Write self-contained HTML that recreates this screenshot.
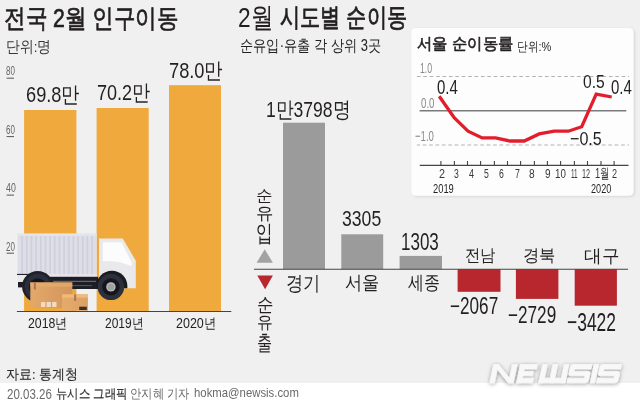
<!DOCTYPE html>
<html><head><meta charset="utf-8"><style>
html,body{margin:0;padding:0}
body{width:640px;height:402px;overflow:hidden;background:#f0f0f0;position:relative;font-family:"Liberation Sans",sans-serif}
svg{position:absolute;left:0;top:0}
.t div{position:absolute;white-space:pre;line-height:1;transform-origin:0 0}
</style></head><body>
<svg width="640" height="402" viewBox="0 0 640 402">
<rect x="0" y="383" width="640" height="19" fill="#ffffff" />
<rect x="24.1" y="110" width="52.3" height="201.5" fill="#f0a93c" />
<rect x="96.6" y="108" width="52.1" height="203.5" fill="#f0a93c" />
<rect x="169" y="85.2" width="52" height="226.3" fill="#f0a93c" />
<line x1="6.6" y1="78.2" x2="14" y2="78.2" stroke="#555" stroke-width="1"/>
<line x1="6.6" y1="136.6" x2="14" y2="136.6" stroke="#555" stroke-width="1"/>
<line x1="6.6" y1="195.1" x2="14" y2="195.1" stroke="#555" stroke-width="1"/>
<line x1="6.6" y1="253.2" x2="14" y2="253.2" stroke="#555" stroke-width="1"/>
<g id="truck">
<defs>
<linearGradient id="bx1" x1="0" x2="1" y1="0" y2="0"><stop offset="0" stop-color="#e4a86b"/><stop offset="1" stop-color="#d3955a"/></linearGradient>
<linearGradient id="bx2" x1="0" x2="1" y1="0" y2="0"><stop offset="0" stop-color="#e6ab6c"/><stop offset="1" stop-color="#dba063"/></linearGradient>
<clipPath id="cabclip"><rect x="90" y="230" width="50" height="58.2"/></clipPath>
<clipPath id="rearclip"><rect x="15" y="230" width="50" height="44.6"/></clipPath>
</defs>
<rect x="17.5" y="233.6" width="79" height="40.6" fill="#dddee7"/>
<rect x="17.5" y="233.6" width="79" height="2.2" fill="#e4e5eb"/>
<rect x="21.3" y="236" width="1.7" height="37.8" fill="#cfd0dc"/><rect x="25.96" y="236" width="1.7" height="37.8" fill="#cfd0dc"/><rect x="30.62" y="236" width="1.7" height="37.8" fill="#cfd0dc"/><rect x="35.28" y="236" width="1.7" height="37.8" fill="#cfd0dc"/><rect x="39.94" y="236" width="1.7" height="37.8" fill="#cfd0dc"/><rect x="44.6" y="236" width="1.7" height="37.8" fill="#cfd0dc"/><rect x="49.26" y="236" width="1.7" height="37.8" fill="#cfd0dc"/><rect x="53.92" y="236" width="1.7" height="37.8" fill="#cfd0dc"/><rect x="58.58" y="236" width="1.7" height="37.8" fill="#cfd0dc"/><rect x="63.24" y="236" width="1.7" height="37.8" fill="#cfd0dc"/><rect x="67.9" y="236" width="1.7" height="37.8" fill="#cfd0dc"/><rect x="72.56" y="236" width="1.7" height="37.8" fill="#cfd0dc"/><rect x="77.22" y="236" width="1.7" height="37.8" fill="#cfd0dc"/><rect x="81.88" y="236" width="1.7" height="37.8" fill="#cfd0dc"/><rect x="86.54" y="236" width="1.7" height="37.8" fill="#cfd0dc"/><rect x="91.2" y="236" width="1.7" height="37.8" fill="#cfd0dc"/>
<rect x="17.5" y="274" width="79.2" height="3" fill="#e3e3e8"/><rect x="17" y="273.9" width="11" height="1.1" fill="#1f2029"/>
<rect x="40" y="276.8" width="58" height="12.2" fill="#1c1d25"/>
<rect x="53" y="280.8" width="43" height="1" fill="#767983"/>
<rect x="70" y="285.2" width="22" height="0.9" fill="#5d5f68"/>
<rect x="18" y="281.4" width="7" height="6" fill="#1c1d25"/>
<rect x="17.5" y="275" width="14" height="7" fill="#e9e9ed"/>
<circle cx="37.7" cy="286.6" r="15.6" fill="#202128"/>
<circle cx="37.7" cy="286.8" r="13" fill="#2b2e3d"/>
<circle cx="37.7" cy="286.8" r="8.6" fill="#15161c"/>
<path d="M99,238.5 L122.8,238.5 L135.8,260.8 L135.8,288.2 L99,288.2 Z" fill="#e9e9ec"/>
<path d="M102.7,242.2 L121.6,242.2 L131.6,262.6 L131.6,266.2 Q124,263.5 119,262 Q112,260.8 102.7,260.9 Z" fill="#fcfcfc"/>
<circle cx="111.9" cy="286.3" r="15.5" fill="#1a1b21" clip-path="url(#cabclip)"/>
<circle cx="110.9" cy="286.9" r="13.2" fill="#2c2f3c"/>
<circle cx="110.9" cy="286.9" r="8.7" fill="#15161c"/>
<circle cx="110.9" cy="286.9" r="4.7" fill="#b9b9b9"/>
<circle cx="110.9" cy="286.9" r="3.2" fill="#a0a0a0"/>
<rect x="30.3" y="282.4" width="42" height="25.7" fill="url(#bx1)"/>
<rect x="30.3" y="282.4" width="42" height="4.4" fill="#e6ac6e" opacity="0.7"/>
<rect x="33.8" y="282.4" width="2.1" height="7.1" fill="#a87856"/>
<rect x="41" y="302" width="4.3" height="5" fill="#f1dcc4"/>
<rect x="46.6" y="302" width="4.3" height="5" fill="#f1dcc4"/>
<rect x="52.2" y="302" width="4.3" height="5" fill="#f1dcc4"/>
<rect x="62.2" y="294.4" width="25.7" height="16.4" fill="url(#bx2)"/>
<rect x="62.2" y="294.4" width="25.7" height="3.3" fill="#f0ba7b"/>
<rect x="74" y="294.4" width="2.2" height="6.6" fill="#ad7b57"/>
<rect x="79.2" y="306.7" width="7.6" height="3.3" fill="#3c3029"/>
</g>
<line x1="16.9" y1="311.5" x2="231.3" y2="311.5" stroke="#4a4344" stroke-width="1.2"/>
<rect x="283" y="122.7" width="42" height="146.5" fill="#9b9b9b" />
<rect x="341.3" y="234.3" width="41.9" height="34.9" fill="#9b9b9b" />
<rect x="399.6" y="255.9" width="42.4" height="13.3" fill="#9b9b9b" />
<rect x="457.6" y="269.2" width="42.9" height="22.6" fill="#b8272e" />
<rect x="515.9" y="269.2" width="42.5" height="29.7" fill="#b8272e" />
<rect x="574.7" y="269.2" width="42.2" height="36.5" fill="#b8272e" />
<line x1="254" y1="269.2" x2="628.1" y2="269.2" stroke="#4a4344" stroke-width="1.15"/>
<polygon points="256.6,262.7 272.9,262.7 264.75,249.3" fill="#a3a3a3"/>
<polygon points="257.3,275.6 272.9,275.6 265.1,289.3" fill="#b8272e"/>
<defs><filter id="sh" x="-5%" y="-5%" width="110%" height="110%"><feDropShadow dx="1.2" dy="0.8" stdDeviation="1" flood-color="#000" flood-opacity="0.13"/></filter></defs><rect x="411.3" y="28" width="222.2" height="167.7" rx="4.5" fill="#fdfdfd" filter="url(#sh)"/>
<line x1="416.9" y1="76.5" x2="629" y2="76.5" stroke="#b3b3b3" stroke-width="1" stroke-dasharray="3.7 2.7" stroke-dashoffset="0"/>
<line x1="416.9" y1="145" x2="629" y2="145" stroke="#b3b3b3" stroke-width="1" stroke-dasharray="3.7 2.7" stroke-dashoffset="0.6"/>
<line x1="419.6" y1="110.8" x2="626.3" y2="110.8" stroke="#7a7a7a" stroke-width="1.4"/>
<line x1="419.75" y1="165.4" x2="628.5" y2="165.4" stroke="#4a4344" stroke-width="1.3"/>
<line x1="440.9" y1="161" x2="440.9" y2="165.4" stroke="#4a4344" stroke-width="1.1"/>
<line x1="454.4" y1="161" x2="454.4" y2="165.4" stroke="#4a4344" stroke-width="1.1"/>
<line x1="467.5" y1="161" x2="467.5" y2="165.4" stroke="#4a4344" stroke-width="1.1"/>
<line x1="480.6" y1="161" x2="480.6" y2="165.4" stroke="#4a4344" stroke-width="1.1"/>
<line x1="494.4" y1="161" x2="494.4" y2="165.4" stroke="#4a4344" stroke-width="1.1"/>
<line x1="507.5" y1="161" x2="507.5" y2="165.4" stroke="#4a4344" stroke-width="1.1"/>
<line x1="520.6" y1="161" x2="520.6" y2="165.4" stroke="#4a4344" stroke-width="1.1"/>
<line x1="534.4" y1="161" x2="534.4" y2="165.4" stroke="#4a4344" stroke-width="1.1"/>
<line x1="547.4" y1="161" x2="547.4" y2="165.4" stroke="#4a4344" stroke-width="1.1"/>
<line x1="560.6" y1="161" x2="560.6" y2="165.4" stroke="#4a4344" stroke-width="1.1"/>
<line x1="574.4" y1="161" x2="574.4" y2="165.4" stroke="#4a4344" stroke-width="1.1"/>
<line x1="587.5" y1="161" x2="587.5" y2="165.4" stroke="#4a4344" stroke-width="1.1"/>
<line x1="601" y1="161" x2="601" y2="165.4" stroke="#4a4344" stroke-width="1.1"/>
<line x1="614.1" y1="161" x2="614.1" y2="165.4" stroke="#4a4344" stroke-width="1.1"/>
<polyline points="439.2,96.3 454.2,117.8 468,131.2 482.2,137.9 495.6,137.9 510,141 524.2,141 539.2,133.9 554.2,131.2 568.3,131.2 581.7,126.7 596.2,94.2 611.7,97" fill="none" stroke="#e21d2c" stroke-width="3.3" stroke-linejoin="miter"/>
<defs><filter id="lg" x="-10%" y="-40%" width="120%" height="180%"><feGaussianBlur in="SourceAlpha" stdDeviation="2"/><feOffset dx="0" dy="0.8"/><feComponentTransfer><feFuncA type="linear" slope="0.42"/></feComponentTransfer><feMerge><feMergeNode/><feMergeNode in="SourceGraphic"/></feMerge></filter></defs>
<g filter="url(#lg)"><path transform="translate(0,382.7) skewX(-12) translate(0,-382.7)" d="M489.8,364.5H494.4V382.7H489.8ZM508.6,364.5H513.2V382.7H508.6ZM489.8,364.5L494.8,364.5L513.2,382.7L508.2,382.7ZM516.8,364.5H521.4V382.7H516.8ZM516.8,364.5H533.5V369.0H516.8ZM516.8,371.4H531V375.8H516.8ZM516.8,378.2H532.5V382.7H516.8ZM538.9,364.5H543.5V382.7H538.9ZM549.2,364.5H553.8000000000001V382.7H549.2ZM560.5,364.5H565.1V382.7H560.5ZM538.9,378.2H565.1V382.7H538.9ZM569.5,364.5H588V369.0H571.6V371.4H585.5Q588,371.4 588,373.9V380.2Q588,382.7 585.5,382.7H567V378.2H583.4V375.8H569.5Q567,375.8 567,373.3V367.0Q567,364.5 569.5,364.5ZM590.3,364.5H594.9V382.7H590.3ZM599.0,364.5H617.5V369.0H601.1V371.4H615.0Q617.5,371.4 617.5,373.9V380.2Q617.5,382.7 615.0,382.7H596.5V378.2H612.9V375.8H599.0Q596.5,375.8 596.5,373.3V367.0Q596.5,364.5 599.0,364.5Z" fill="#f8f8f8" stroke="#f8f8f8" stroke-width="0.7" stroke-linejoin="round"/></g>
</svg>
<div class="t">
<div style="left:3.7px;top:6px;font-size:25.56px;font-weight:400;color:#231f20;transform:scaleX(0.8297);-webkit-text-stroke:0.7px #231f20">전국 2월 인구이동</div>
<div style="left:5.6px;top:39.2px;font-size:15.56px;font-weight:400;color:#3a3536;transform:scaleX(0.8656)">단위:명</div>
<div style="left:5.9px;top:65.1px;font-size:12.7px;font-weight:400;color:#666666;transform:scaleX(0.6338)">80</div>
<div style="left:5.9px;top:123.6px;font-size:12.7px;font-weight:400;color:#666666;transform:scaleX(0.6338)">60</div>
<div style="left:5.9px;top:183px;font-size:11.85px;font-weight:400;color:#666666;transform:scaleX(0.7409)">40</div>
<div style="left:5.9px;top:241.5px;font-size:11.85px;font-weight:400;color:#666666;transform:scaleX(0.6796)">20</div>
<div style="left:26.25px;top:84px;font-size:21.83px;font-weight:400;color:#231f20;transform:scaleX(0.8341)">69.8만</div>
<div style="left:96.75px;top:82px;font-size:21.83px;font-weight:400;color:#231f20;transform:scaleX(0.8273)">70.2만</div>
<div style="left:169px;top:60.25px;font-size:21.67px;font-weight:400;color:#231f20;transform:scaleX(0.8419)">78.0만</div>
<div style="left:27.7px;top:316.1px;font-size:14.23px;font-weight:400;color:#231f20;transform:scaleX(0.864)">2018년</div>
<div style="left:104.9px;top:316.1px;font-size:14.23px;font-weight:400;color:#231f20;transform:scaleX(0.8456)">2019년</div>
<div style="left:175.6px;top:316.1px;font-size:14.23px;font-weight:400;color:#231f20;transform:scaleX(0.8776)">2020년</div>
<div style="left:237.6px;top:3.25px;font-size:28.18px;font-weight:400;color:#231f20;transform:scaleX(0.8042)">2월</div>
<div style="left:279.5px;top:5.25px;font-size:25.83px;font-weight:400;color:#231f20;transform:scaleX(0.7785);-webkit-text-stroke:0.8px #231f20">시도별 순이동</div>
<div style="left:240.25px;top:38px;font-size:15.64px;font-weight:400;color:#231f20;transform:scaleX(0.8262)">순유입·유출 각 상위 3곳</div>
<div style="left:265.9px;top:99.2px;font-size:21.68px;font-weight:400;color:#231f20;transform:scaleX(0.8093)">1만3798명</div>
<div style="left:342.1px;top:207.2px;font-size:22.69px;font-weight:400;color:#231f20;transform:scaleX(0.7764)">3305</div>
<div style="left:400.7px;top:231.4px;font-size:23.11px;font-weight:400;color:#231f20;transform:scaleX(0.7357)">1303</div>
<div style="left:286.3px;top:273.6px;font-size:19.91px;font-weight:400;color:#231f20;transform:scaleX(0.8601)">경기</div>
<div style="left:345.4px;top:274.3px;font-size:18.89px;font-weight:400;color:#231f20;transform:scaleX(0.9081)">서울</div>
<div style="left:408.3px;top:274.3px;font-size:18.89px;font-weight:400;color:#231f20;transform:scaleX(0.8389)">세종</div>
<div style="left:465.3px;top:247.4px;font-size:17.2px;font-weight:400;color:#231f20;transform:scaleX(0.9026)">전남</div>
<div style="left:523.2px;top:247.4px;font-size:17.2px;font-weight:400;color:#231f20;transform:scaleX(0.9604)">경북</div>
<div style="left:584.1px;top:248.4px;font-size:17.59px;font-weight:400;color:#231f20;transform:scaleX(0.9805)">대구</div>
<div style="left:449.6px;top:294.8px;font-size:23.2px;font-weight:400;color:#231f20;transform:scaleX(0.7402)">−2067</div>
<div style="left:508.4px;top:303.7px;font-size:23.59px;font-weight:400;color:#231f20;transform:scaleX(0.7279)">−2729</div>
<div style="left:567.2px;top:309.1px;font-size:26.03px;font-weight:400;color:#231f20;transform:scaleX(0.6709)">−3422</div>
<div style="left:256.3px;top:188.4px;font-size:15.52px;font-weight:400;color:#231f20;transform:scaleX(1.0392)">순</div>
<div style="left:256.3px;top:205.8px;font-size:16.88px;font-weight:400;color:#231f20;transform:scaleX(1.0238)">유</div>
<div style="left:256.3px;top:221.6px;font-size:23.23px;font-weight:400;color:#231f20;transform:scaleX(0.7241)">입</div>
<div style="left:257px;top:295.9px;font-size:18.51px;font-weight:400;color:#231f20;transform:scaleX(0.8695)">순</div>
<div style="left:257px;top:313.8px;font-size:17.35px;font-weight:400;color:#231f20;transform:scaleX(0.9274)">유</div>
<div style="left:257px;top:333px;font-size:20.78px;font-weight:400;color:#231f20;transform:scaleX(0.7192)">출</div>
<div style="left:417px;top:34.6px;font-size:16.3px;font-weight:400;color:#231f20;transform:scaleX(0.9577);-webkit-text-stroke:0.6px #231f20">서울 순이동률</div>
<div style="left:517.3px;top:39.5px;font-size:13.37px;font-weight:400;color:#231f20;transform:scaleX(0.8246)">단위:%</div>
<div style="left:419.7px;top:61px;font-size:14.08px;font-weight:400;color:#8a8a8a;transform:scaleX(0.6226)">1.0</div>
<div style="left:420.9px;top:95.75px;font-size:14.52px;font-weight:400;color:#8a8a8a;transform:scaleX(0.6665)">0.0</div>
<div style="left:415.3px;top:129.3px;font-size:14.97px;font-weight:400;color:#8a8a8a;transform:scaleX(0.6385)">−1.0</div>
<div style="left:437.4px;top:77.7px;font-size:19.77px;font-weight:400;color:#231f20;transform:scaleX(0.7594)">0.4</div>
<div style="left:583.3px;top:73.2px;font-size:18.78px;font-weight:400;color:#231f20;transform:scaleX(0.8321)">0.5</div>
<div style="left:610.8px;top:78px;font-size:19.44px;font-weight:400;color:#231f20;transform:scaleX(0.7723)">0.4</div>
<div style="left:570px;top:130px;font-size:18.78px;font-weight:400;color:#231f20;transform:scaleX(0.8579)">−0.5</div>
<div style="left:432.5px;top:181.5px;font-size:13.57px;font-weight:400;color:#231f20;transform:scaleX(0.6887)">2019</div>
<div style="left:591px;top:181.5px;font-size:13.57px;font-weight:400;color:#231f20;transform:scaleX(0.6727)">2020</div>
<div style="left:5.9px;top:367.5px;font-size:13.61px;font-weight:400;color:#2d2d2d;transform:scaleX(0.925);-webkit-text-stroke:0.15px #2d2d2d">자료: 통계청</div>
<div style="left:7px;top:386.6px;font-size:14.52px;font-weight:400;color:#6a6a6a;transform:scaleX(0.7938)">20.03.26</div>
<div style="left:56px;top:386.5px;font-size:13.04px;font-weight:400;color:#333333;transform:scaleX(0.8752);-webkit-text-stroke:0.2px #333333">뉴시스 그래픽</div>
<div style="left:130.25px;top:386.5px;font-size:13.33px;font-weight:400;color:#6a6a6a;transform:scaleX(0.8675)">안지혜 기자</div>
<div style="left:193.5px;top:387.2px;font-size:12.79px;font-weight:400;color:#6a6a6a;transform:scaleX(0.8881)">hokma@newsis.com</div>
<div style="left:439.1px;top:167.5px;font-size:12.5px;font-weight:400;color:#3a3536;transform:scaleX(0.8631)">2</div>
<div style="left:454.1px;top:167.5px;font-size:12.5px;font-weight:400;color:#3a3536;transform:scaleX(0.6944)">3</div>
<div style="left:469px;top:167.5px;font-size:12.86px;font-weight:400;color:#3a3536;transform:scaleX(0.701)">4</div>
<div style="left:484px;top:167.5px;font-size:12.86px;font-weight:400;color:#3a3536;transform:scaleX(0.6752)">5</div>
<div style="left:499.4px;top:167.5px;font-size:12.5px;font-weight:400;color:#3a3536;transform:scaleX(0.6944)">6</div>
<div style="left:514.75px;top:167.5px;font-size:12.86px;font-weight:400;color:#3a3536;transform:scaleX(0.68)">7</div>
<div style="left:529.4px;top:167.5px;font-size:12.5px;font-weight:400;color:#3a3536;transform:scaleX(0.813)">8</div>
<div style="left:544.75px;top:167.5px;font-size:12.5px;font-weight:400;color:#3a3536;transform:scaleX(0.8039)">9</div>
<div style="left:555px;top:167.5px;font-size:12.5px;font-weight:400;color:#3a3536;transform:scaleX(0.7817)">10</div>
<div style="left:570.6px;top:167.5px;font-size:12.86px;font-weight:400;color:#3a3536;transform:scaleX(0.4959)">11</div>
<div style="left:582.25px;top:167.5px;font-size:12.5px;font-weight:400;color:#3a3536;transform:scaleX(0.5805)">12</div>
<div style="left:595.25px;top:165.5px;font-size:14.0px;font-weight:400;color:#3a3536;transform:scaleX(0.6702)">1월</div>
<div style="left:611.9px;top:167.5px;font-size:12.5px;font-weight:400;color:#3a3536;transform:scaleX(0.7246)">2</div>
</div>

</body></html>
